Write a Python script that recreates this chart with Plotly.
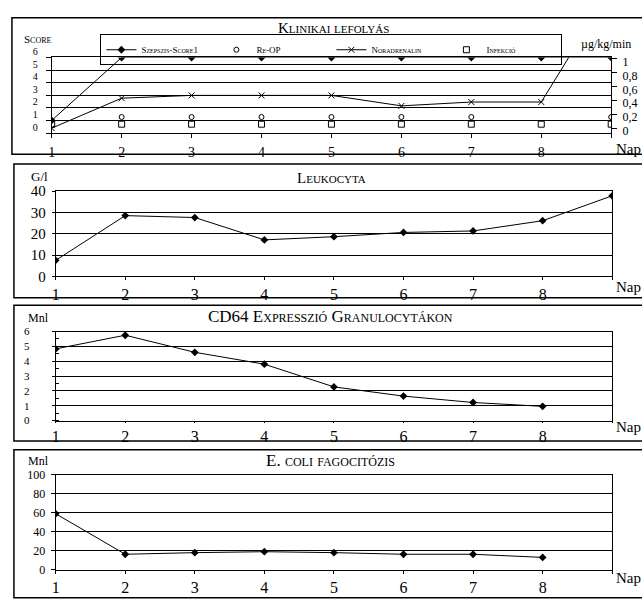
import plotly.graph_objects as go

# ---------------- data ----------------
days = [1, 2, 3, 4, 5, 6, 7, 8, 9]
day_labels = ["1", "2", "3", "4", "5", "6", "7", "8", ""]
unit_x = "Nap"

# Panel 1 – Klinikai lefolyás
szepszis_score = [1, 6, 6, 6, 6, 6, 6, 6, 6]
re_op = [None, 1.27, 1.27, 1.27, 1.27, 1.27, 1.27, None, 1.27]
infekcio = [0.7, 0.7, 0.7, 0.7, 0.7, 0.7, 0.7, 0.7, 0.7]
noradrenalin = [0.0, 0.43, 0.47, 0.47, 0.47, 0.32, 0.375, 0.375, 2.0]
score_ticks = [0, 1, 2, 3, 4, 5, 6]
nor_ticks = [0, 0.2, 0.4, 0.6, 0.8, 1]
nor_ticktext = ["0", "0,2", "0,4", "0,6", "0,8", "1"]

# Panel 2 – Leukocyta
leukocyta = [7.5, 28.5, 27.6, 17.1, 18.6, 20.6, 21.3, 26.1, 37.8]
leuko_ticks = [0, 10, 20, 30, 40]

# Panel 3 – CD64 expresszió
cd64 = [4.83, 5.75, 4.6, 3.8, 2.27, 1.65, 1.22, 0.96, None]
cd64_ticks = [0, 1, 2, 3, 4, 5, 6]

# Panel 4 – E. coli fagocitózis
ecoli = [59, 16.3, 18, 19, 18, 16.3, 16.3, 13, None]
ecoli_ticks = [0, 20, 40, 60, 80, 100]

W, H = 642, 600
SERIF = "Liberation Serif"


def px(x):
    return x / W


def py(y):
    return 1 - y / H


fig = go.Figure()

line = dict(color="black", width=1)
MK = 6

# Panel 1 traces
fig.add_trace(go.Scatter(x=days, y=szepszis_score, name="Szepszis-Score1", mode="lines+markers",
                         line=line, marker=dict(symbol="diamond", size=MK, color="black"),
                         xaxis="x", yaxis="y"))
fig.add_trace(go.Scatter(x=days, y=re_op, name="Re-OP", mode="markers",
                         marker=dict(symbol="circle-open", size=5, color="black", line=dict(width=1)),
                         xaxis="x", yaxis="y"))
fig.add_trace(go.Scatter(x=days, y=noradrenalin, name="Noradrenalin", mode="lines+markers",
                         line=line, marker=dict(symbol="x-thin", size=6, line=dict(width=1, color="black")),
                         xaxis="x", yaxis="y5"))
fig.add_trace(go.Scatter(x=days, y=infekcio, name="Infekció", mode="markers",
                         marker=dict(symbol="square-open", size=6, color="black", line=dict(width=1)),
                         xaxis="x", yaxis="y"))

# Panels 2-4
for vals, xa, ya in [(leukocyta, "x2", "y2"), (cd64, "x3", "y3"), (ecoli, "x4", "y4")]:
    fig.add_trace(go.Scatter(x=days, y=vals, mode="lines+markers", showlegend=False,
                             line=line, marker=dict(symbol="diamond", size=MK, color="black"),
                             xaxis=xa, yaxis=ya))


def xaxis_style(dom, anchor, size, ticklen=4, standoff=0):
    return dict(domain=dom, anchor=anchor, range=[1, 9], tickvals=days, ticktext=day_labels,
                showline=True, linecolor="black", linewidth=1, mirror=True,
                ticks="outside", ticklen=ticklen, tickcolor="black", showgrid=False, zeroline=False,
                ticklabelstandoff=standoff,
                tickfont=dict(family=SERIF, size=size, color="black"), fixedrange=True)


def yaxis_style(dom, anchor, rng, tickvals, size, standoff=4, ticklen=4, mirror=True):
    return dict(domain=dom, anchor=anchor, range=rng, tickvals=tickvals,
                showline=True, linecolor="black", linewidth=1, mirror=mirror,
                showgrid=True, gridcolor="black", gridwidth=1, zeroline=False,
                ticks="outside", ticklen=ticklen, tickcolor="black",
                ticklabelstandoff=standoff,
                tickfont=dict(family=SERIF, size=size, color="black"), fixedrange=True)


xd1 = [px(48), px(611)]
xd = [px(52), px(612)]

layout = dict(
    width=W, height=H, autosize=False,
    margin=dict(l=0, r=0, t=0, b=0),
    paper_bgcolor="white", plot_bgcolor="white",
    font=dict(family=SERIF, color="black"),
    xaxis=xaxis_style(xd1, "y", 14, ticklen=4, standoff=2),
    yaxis=yaxis_style([py(126), py(48)], "x", [0, 6], score_ticks, 10, standoff=6, ticklen=5, mirror=False),
    yaxis5=dict(overlaying="y", side="right", anchor="x", range=[-5 / 72, 1 + 1 / 72],
                tickvals=nor_ticks, ticktext=nor_ticktext, showline=True, linecolor="black",
                linewidth=1, ticks="outside", ticklen=5, tickcolor="black", showgrid=False,
                zeroline=False, ticklabelstandoff=3, ticklabelshift=3,
                tickfont=dict(family=SERIF, size=12, color="black"), fixedrange=True),
    xaxis2=xaxis_style(xd, "y2", 16, ticklen=3),
    yaxis2=yaxis_style([py(274), py(186)], "x2", [0, 40], leuko_ticks, 15, standoff=3, ticklen=3),
    xaxis3=xaxis_style(xd, "y3", 16, ticklen=1),
    yaxis3=yaxis_style([py(423), py(331)], "x3", [0, 6], cd64_ticks, 11, standoff=20, ticklen=3),
    xaxis4=xaxis_style(xd, "y4", 16, ticklen=3),
    yaxis4=yaxis_style([py(577), py(479)], "x4", [0, 100], ecoli_ticks, 12, standoff=3, ticklen=4),
    showlegend=True,
    legend=dict(orientation="h", x=px(97), y=py(24), xanchor="left", yanchor="top",
                bordercolor="black", borderwidth=1, bgcolor="rgba(0,0,0,0)",
                font=dict(family=SERIF, size=9, color="black", variant="small-caps"),
                itemwidth=30, tracegroupgap=0, entrywidth=70, entrywidthmode="pixels"),
)
layout["yaxis"]["ticklabelshift"] = -6
layout["yaxis3"]["minor"] = dict(ticks="inside", ticklen=3, tickcolor="black", dtick=0.5, showgrid=False)
fig.update_layout(**layout)

# Panel boxes
for top, bottom in [(7, 148), (158, 296), (304, 444), (453, 606)]:
    fig.add_shape(type="rect", xref="paper", yref="paper", x0=px(8 if top == 7 else 10), x1=1.02,
                  y0=py(bottom), y1=py(top), line=dict(color="black", width=1.5))

sc = dict(family=SERIF, color="black", variant="small-caps")
annots = [
    ("Klinikai lefolyás", 332, 18, 15),
    ("Leukocyta", 330, 172, 15),
    ("CD64 Expresszió Granulocytákon", 329, 316, 17),
    ("E. coli fagocitózis", 329, 464, 17),
]
for text, x, y, s in annots:
    fig.add_annotation(text=text, x=px(x), y=py(y), xref="paper", yref="paper", showarrow=False,
                       xanchor="center", yanchor="middle", font=dict(sc, size=s))

units = [
    ("Score", 18, 29, 11, True),
    ("µg/kg/min", 579, 34, 12, False),
    ("G/l", 25, 171, 13, False),
    ("Mnl", 22, 317, 12, False),
    ("Mnl", 22, 465, 12, False),
    (unit_x, 614, 142, 15, False),
    (unit_x, 614, 285, 15, False),
    (unit_x, 614, 430, 15, False),
    (unit_x, 614, 586, 15, False),
]
for text, x, y, s, small in units:
    f = dict(family=SERIF, color="black", size=s)
    if small:
        f["variant"] = "small-caps"
    fig.add_annotation(text=text, x=px(x), y=py(y), xref="paper", yref="paper", showarrow=False,
                       xanchor="left", yanchor="middle", font=f)

fig.write_html("out.html", post_script="document.body.style.margin='0';")
